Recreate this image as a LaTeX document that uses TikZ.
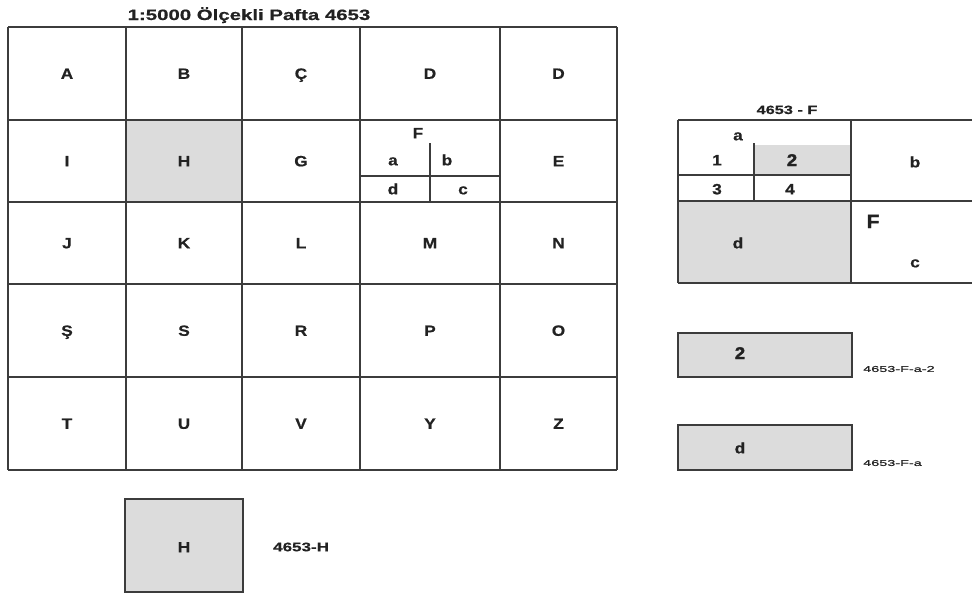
\documentclass[tikz,border=0pt]{standalone}
\usepackage{fontspec}
\newfontfamily\titlefont[FakeStretch=1.36,BoldFeatures={FakeBold=0.6}]{Liberation Sans}
\newfontfamily\tagfont[FakeStretch=1.7,FakeBold=0.8]{Liberation Sans}
\newfontfamily\letterfont[FakeStretch=1.15,BoldFeatures={FakeBold=0.6}]{Liberation Sans}
\newfontfamily\heavyfont[FakeStretch=1.1,BoldFeatures={FakeBold=2}]{Liberation Sans}
\usetikzlibrary{positioning}
\definecolor{linegray}{HTML}{3C3C3C}
\definecolor{textgray}{HTML}{222222}
\definecolor{sheetgray}{HTML}{DCDCDC}
\tikzset{
  sheet line/.style={draw=linegray,line width=1.3pt},
  letter/.style={font=\letterfont\bfseries\fontsize{15}{17}\selectfont,text=textgray,
    inner sep=0pt,text height=10.7pt,text depth=0pt},
  heavy letter/.style={font=\heavyfont\bfseries\fontsize{17}{19}\selectfont,text=textgray,
    inner sep=0pt,text height=12pt,text depth=0pt},
  caption/.style={font=\titlefont\bfseries\fontsize{15}{17}\selectfont,text=textgray,inner sep=0pt},
  tag/.style={font=\tagfont\fontsize{8.5}{10}\selectfont,text=textgray,inner sep=0pt,anchor=west}
}

\begin{document}
\begin{tikzpicture}[x=1pt,y=-1pt]
  \useasboundingbox (0,0) rectangle (972,595);

  % main sheet 1:5000
  \node at (249,20) [caption,anchor=base] (title) {1:5000 Ölçekli Pafta 4653};
  \fill[sheetgray] (126,120) rectangle (242,202);
  \foreach \x in {8,126,242,360,500,617}
    \draw[sheet line] (\x,27) -- (\x,470);
  \foreach \y in {27,120,202,284,377,470}
    \draw[sheet line] (8,\y) -- (617,\y);

  \foreach \labels/\y [count=\r] in {{A,B,Ç,D,D}/73.5,{J,K,L,M,N}/243,{Ş,S,R,P,O}/330.5,{T,U,V,Y,Z}/423.5}
    \foreach \t [count=\c] in \labels {
      \pgfmathsetmacro\cx{{67,184,301,430,558.5}[\c-1]}
      \node at (\cx,\y) [letter] (cell\r-\c) {\t};
    }
  \node at (67,161) [letter] (celli) {I};
  \node at (184,161) [letter] (cellh) {H};
  \node at (301,161) [letter] (cellg) {G};
  \node at (558.5,161) [letter] (celle) {E};

  % sheet F split in four
  \draw[sheet line] (360,176) -- (500,176);
  \draw[sheet line] (430,143) -- (430,202);
  \node at (418,133) [letter] (cellf) {F};
  \node at (393,160) [letter] (fa) {a};
  \node at (447,160) [letter] (fb) {b};
  \node at (393,189) [letter] (fd) {d};
  \node at (463,189) [letter] (fc) {c};

  % sheet 4653 - F
  \node at (787,114) [caption,font=\titlefont\bfseries\fontsize{12}{14}\selectfont,anchor=base] (ftitle) {4653 - F};
  \fill[sheetgray] (754,145) rectangle (851,175);
  \fill[sheetgray] (678,201) rectangle (851,283);
  \draw[sheet line] (678,120) -- (972,120);
  \draw[sheet line] (678,201) -- (972,201);
  \draw[sheet line] (678,283) -- (972,283);
  \draw[sheet line] (678,120) -- (678,283);
  \draw[sheet line] (851,120) -- (851,283);
  \draw[sheet line] (678,175) -- (851,175);
  \draw[sheet line] (754,143) -- (754,201);
  \node at (738,135) [letter] (pa) {a};
  \node at (717,160) [letter] (p1) {1};
  \node at (792,160) [heavy letter] (p2) {2};
  \node at (717,189) [letter] (p3) {3};
  \node at (790,189) [letter] (p4) {4};
  \node at (915,162) [letter] (pb) {b};
  \node at (738,243) [letter] (pd) {d};
  \node at (873,222) [heavy letter,font=\heavyfont\bfseries\fontsize{19}{21}\selectfont] (pf) {F};
  \node at (915,262) [letter] (pc) {c};

  % single sheets
  \draw[sheet line,fill=sheetgray] (678,333) rectangle (852,377);
  \node at (740,353) [heavy letter] (one2) {2};
  \node at (863,369) [tag] (one2tag) {4653-F-a-2};

  \draw[sheet line,fill=sheetgray] (678,425) rectangle (852,470);
  \node at (740,448) [letter] (oned) {d};
  \node at (863,463) [tag] (onedtag) {4653-F-a};

  \draw[sheet line,fill=sheetgray] (125,499) rectangle (243,592);
  \node at (184,547) [letter] (oneh) {H};
  \node at (273,547) [caption,font=\titlefont\bfseries\fontsize{12.5}{14}\selectfont,anchor=west] (onehtag) {4653-H};
\end{tikzpicture}
\end{document}
